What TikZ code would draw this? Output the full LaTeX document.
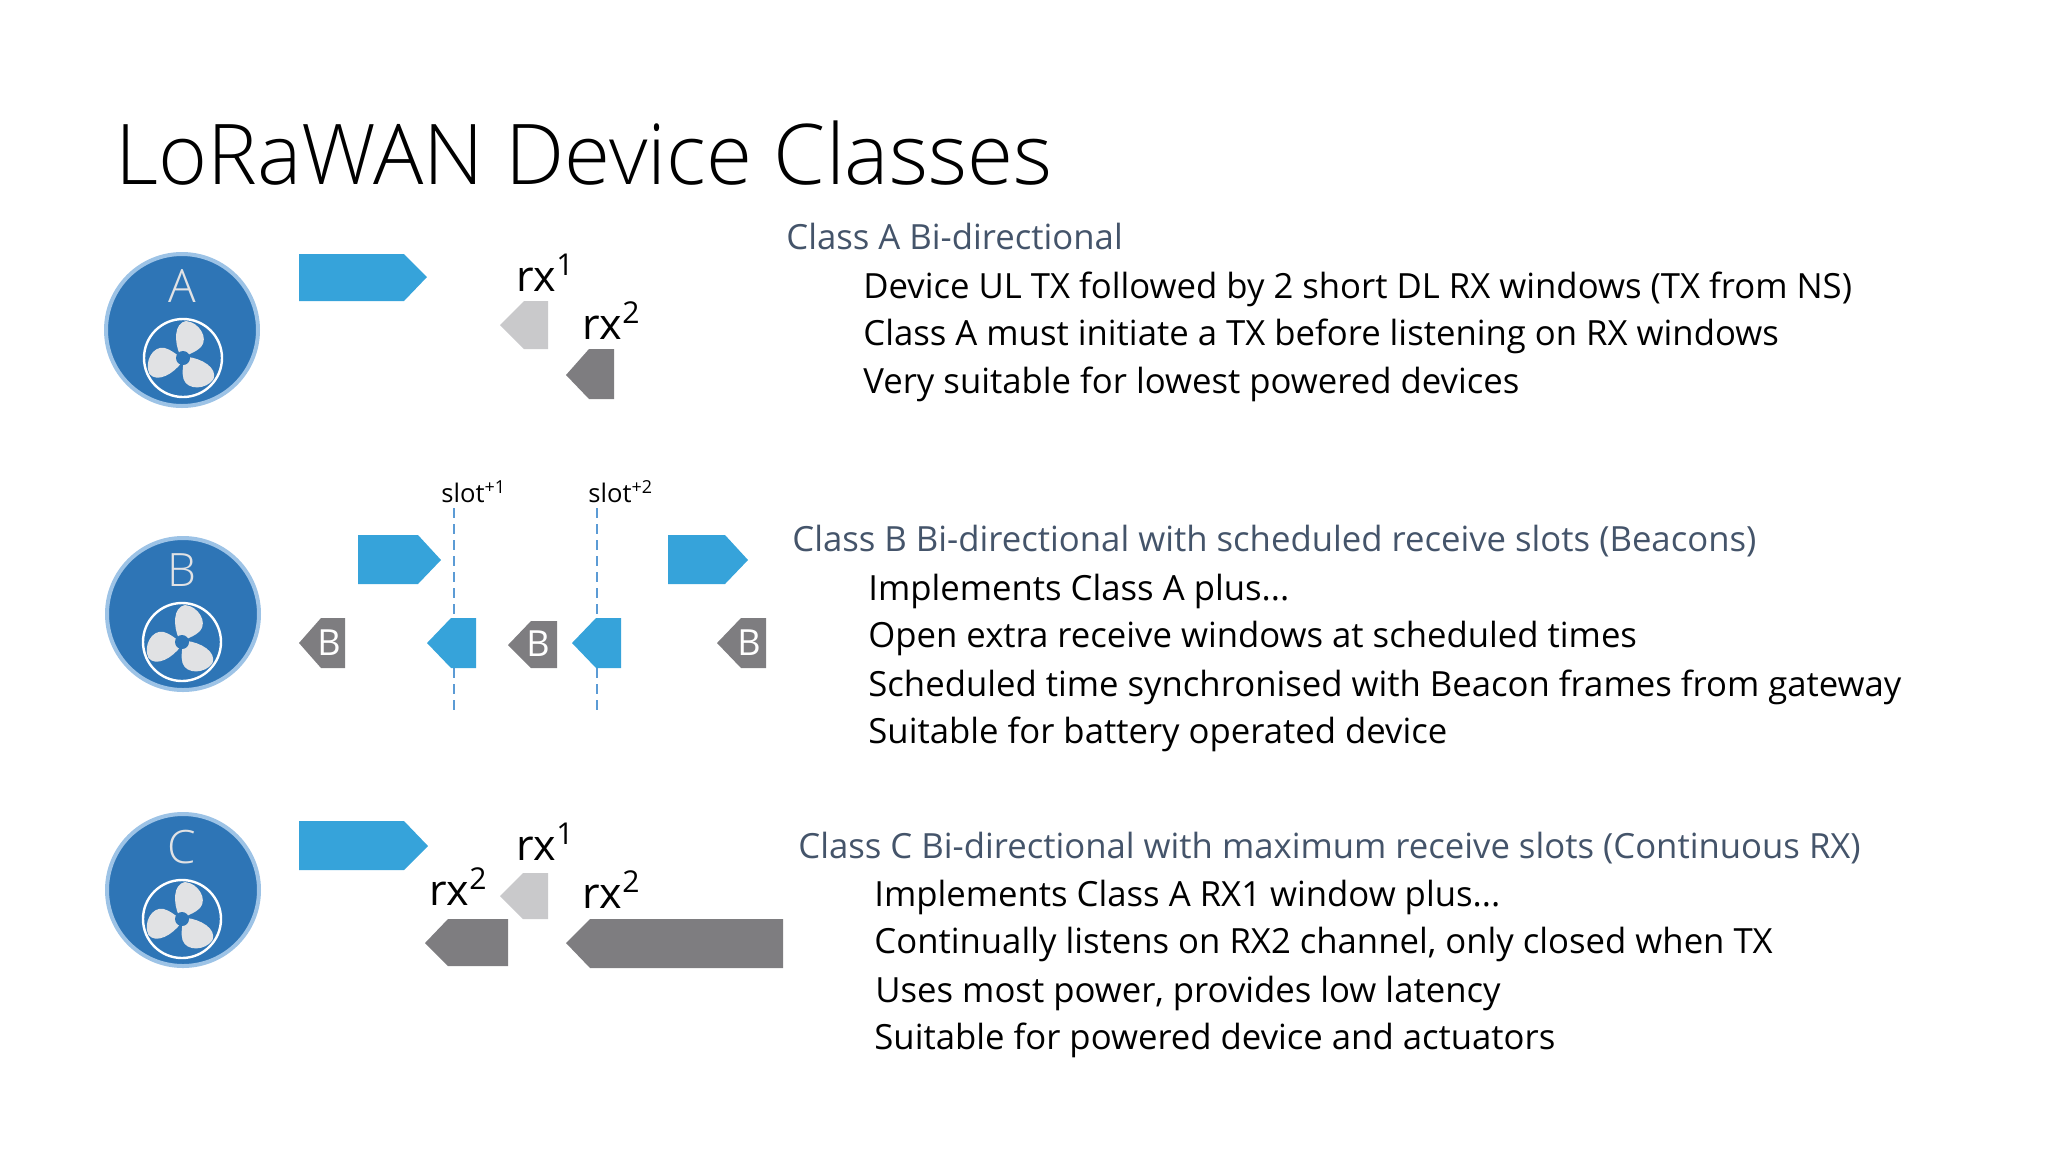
\documentclass[tikz,border=0pt]{standalone}
\usepackage{fontspec}
\setmainfont{Open Sans}
\newfontfamily\lightfont{Open Sans Light}
\usetikzlibrary{shapes.geometric}
\definecolor{txblue}{HTML}{36A3DA}
\definecolor{rxlight}{HTML}{C9C9CB}
\definecolor{rxdark}{HTML}{7E7D80}
\definecolor{badgeblue}{HTML}{2E75B6}
\definecolor{badgering}{HTML}{9DC3E6}
\definecolor{fangrey}{HTML}{E1E2E4}
\definecolor{headblue}{HTML}{44546A}
\definecolor{slotblue}{HTML}{5B9BD5}

\begin{document}
\begin{tikzpicture}[x=0.5pt,y=-0.5pt]
\tikzstyle{badge} = [circle, draw=badgering, line width=2pt, fill=badgeblue,
minimum size=76pt, inner sep=0pt]
\tikzstyle{badge_label} = [text=fangrey, font=\lightfont\fontsize{23}{23}\selectfont, inner sep=0pt]
\tikzstyle{title} = [anchor=base west, inner sep=0pt, font=\lightfont\fontsize{41.9}{41.9}\selectfont]
\tikzstyle{head} = [anchor=base west, inner sep=0pt, text=headblue, font=\fontsize{17.35}{17.35}\selectfont]
\tikzstyle{item} = [anchor=base west, inner sep=0pt, font=\fontsize{17.35}{17.35}\selectfont]
\tikzstyle{rx} = [anchor=base west, inner sep=0pt, font=\fontsize{21.5}{21.5}\selectfont]
\tikzstyle{slot} = [anchor=base west, inner sep=0pt, font=\fontsize{12.8}{12.8}\selectfont]
\tikzstyle{tx} = [fill=txblue]
\tikzstyle{rx_one} = [fill=rxlight]
\tikzstyle{rx_two} = [fill=rxdark]
\tikzstyle{beacon} = [text=white, inner sep=0pt, font=\fontsize{18}{18}\selectfont]
\tikzstyle{slotline} = [draw=slotblue, line width=1pt, dash pattern=on 5pt off 3pt]
\tikzset{fan/.pic={
  \draw [white, line width=1.2pt] (0,0) circle (39);
  \fill [fangrey] (-3,-3) .. controls (-9,-16) and (-9,-35) .. (3,-37)
    .. controls (16,-36) and (26,-20) .. (18,-11)
    .. controls (13,-6) and (8,-5) .. (3,-2) -- cycle;
  \fill [fangrey, rotate=120] (-3,-3) .. controls (-9,-16) and (-9,-35) .. (3,-37)
    .. controls (16,-36) and (26,-20) .. (18,-11)
    .. controls (13,-6) and (8,-5) .. (3,-2) -- cycle;
  \fill [fangrey, rotate=240] (-3,-3) .. controls (-9,-16) and (-9,-35) .. (3,-37)
    .. controls (16,-36) and (26,-20) .. (18,-11)
    .. controls (13,-6) and (8,-5) .. (3,-2) -- cycle;
  \fill [badgeblue] (0,0) circle (7);
}}
\useasboundingbox (0,0) rectangle (2048,1152);

\node [title] (heading) at (115,184) {LoRaWAN Device Classes};

% class A
\node [badge] (badgeA) at (182,330) {};
\node [badge_label] (letterA) at (182,286) {A};
\path (183,358) pic {fan};
\fill [tx] (299,254) -- (404,254) -- (427,277) -- (404,301) -- (299,301) -- cycle;
\fill [rx_one] (500,325) -- (524,301) -- (548,301) -- (548,349) -- (524,349) -- cycle;
\fill [rx_two] (566,375) -- (589,349) -- (614,349) -- (614,399) -- (589,399) -- cycle;
\node [rx] (rxoneA) at (516,291) {rx\textsuperscript{1}};
\node [rx] (rxtwoA) at (582,339) {rx\textsuperscript{2}};
\node [head] (headA) at (786,249) {Class A Bi-directional};
\node [item] (itemAa) at (863,298) {Device UL TX followed by 2 short DL RX windows (TX from NS)};
\node [item] (itemAb) at (863,345) {Class A must initiate a TX before listening on RX windows};
\node [item] (itemAc) at (863,393) {Very suitable for lowest powered devices};

% class B
\node [badge] (badgeB) at (183,614) {};
\node [badge_label] (letterB) at (182,570) {B};
\path (182,642) pic {fan};
\coordinate (slotAtop) at (454,508);
\coordinate (slotAend) at (454,710);
\coordinate (slotBtop) at (597,508);
\coordinate (slotBend) at (597,710);
\path [slotline] (slotAtop) -- (slotAend);
\path [slotline] (slotBtop) -- (slotBend);
\node [slot] (slotA) at (441,502) {slot\textsuperscript{+1}};
\node [slot] (slotB) at (588,502) {slot\textsuperscript{+2}};
\fill [tx] (358,535) -- (418,535) -- (441,560) -- (418,584) -- (358,584) -- cycle;
\fill [tx] (668,535) -- (725,535) -- (748,560) -- (725,584) -- (668,584) -- cycle;
\fill [rx_two] (299,643) -- (321,618) -- (345,618) -- (345,668) -- (321,668) -- cycle;
\fill [tx] (427,643) -- (451,618) -- (476,618) -- (476,668) -- (451,668) -- cycle;
\fill [rx_two] (508,645) -- (531,621) -- (557,621) -- (557,668) -- (531,668) -- cycle;
\fill [tx] (572,643) -- (596,618) -- (621,618) -- (621,668) -- (596,668) -- cycle;
\fill [rx_two] (717,643) -- (741,618) -- (766,618) -- (766,668) -- (741,668) -- cycle;
\node [beacon] (beaconA) at (329,643) {B};
\node [beacon] (beaconB) at (538,644) {B};
\node [beacon] (beaconC) at (749,643) {B};
\node [head] (headB) at (792,551) {Class B Bi-directional with scheduled receive slots (Beacons)};
\node [item] (itemBa) at (868,600) {Implements Class A plus...};
\node [item] (itemBb) at (868,647) {Open extra receive windows at scheduled times};
\node [item] (itemBc) at (868,696) {Scheduled time synchronised with Beacon frames from gateway};
\node [item] (itemBd) at (868,743) {Suitable for battery operated device};

% class C
\node [badge] (badgeC) at (183,890) {};
\node [badge_label] (letterC) at (182,847) {C};
\path (182,919) pic {fan};
\fill [tx] (299,821) -- (404,821) -- (428,846) -- (404,870) -- (299,870) -- cycle;
\fill [rx_one] (500,896) -- (523,873) -- (548,873) -- (548,919) -- (523,919) -- cycle;
\fill [rx_two] (425,943) -- (448,919) -- (508,919) -- (508,966) -- (448,966) -- cycle;
\fill [rx_two] (566,943) -- (590,919) -- (783,919) -- (783,968) -- (590,968) -- cycle;
\node [rx] (rxoneC) at (516,860) {rx\textsuperscript{1}};
\node [rx] (rxtwoC) at (429,905) {rx\textsuperscript{2}};
\node [rx] (rxthreeC) at (582,908) {rx\textsuperscript{2}};
\node [head] (headC) at (798,858) {Class C Bi-directional with maximum receive slots (Continuous RX)};
\node [item] (itemCa) at (874,906) {Implements Class A RX1 window plus...};
\node [item] (itemCb) at (874,953) {Continually listens on RX2 channel, only closed when TX};
\node [item] (itemCc) at (875,1002) {Uses most power, provides low latency};
\node [item] (itemCd) at (874,1049) {Suitable for powered device and actuators};
\end{tikzpicture}
\end{document}
